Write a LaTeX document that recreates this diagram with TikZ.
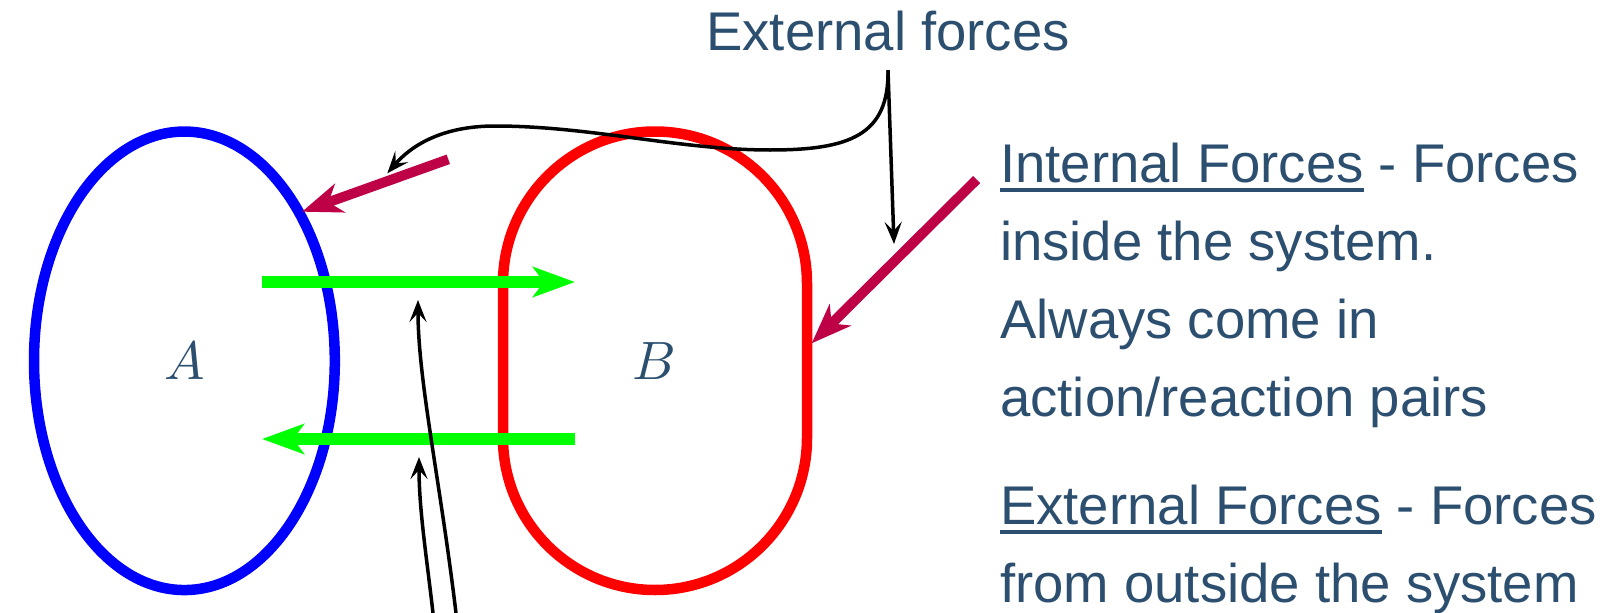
\documentclass[tikz,border=0pt]{standalone}
\usepackage{fontspec}
\usetikzlibrary{arrows.meta,shapes.geometric}
\newfontfamily\lsans{Liberation Sans}
\definecolor{txt}{RGB}{44,79,112}
\definecolor{crim}{RGB}{190,0,70}
\definecolor{lgreen}{RGB}{0,255,0}
\newcommand{\myul}[1]{\setbox0\hbox{#1}\rlap{\rule[-10pt]{\wd0}{3.6pt}}\box0\relax}
\begin{document}
\begin{tikzpicture}[x=1pt,y=-1pt,
  body/.style={font={\lsans\fontsize{54.5}{63}\selectfont}, text=txt, inner sep=0pt, anchor=base west},
  mathlbl/.style={font=\normalsize, text=txt, inner sep=0pt, scale=5.4, transform shape},
  sysline/.style={line width=10.5pt},
  internal/.style={draw=lgreen, line width=12pt, -{Stealth[length=42pt,width=30pt,inset=11pt]}},
  extforce/.style={draw=crim, line width=10pt, -{Stealth[length=40pt,width=30pt,inset=12pt]}},
  pointer/.style={draw=black, line width=3.5pt, -{Stealth[length=22pt,width=17pt,inset=9pt]}}
]
\useasboundingbox (0,0) rectangle (1610,613);

% system A
\node[ellipse, draw=blue, sysline, minimum width=300.8pt, minimum height=458.5pt, inner sep=0pt] (A) at (184.4,360.8) {};
\node[mathlbl] (Alabel) at (A.center) {$A$};

% system B
\draw[red, sysline] (503,283.5) arc[start angle=180,end angle=360,radius=152] -- (807,438) arc[start angle=0,end angle=180,radius=152] -- cycle;
\node[mathlbl] (B) at (654,360.8) {$B$};

% internal forces (green)
\coordinate (g1s) at (262,282);
\coordinate (g1e) at (575,282);
\coordinate (g2s) at (575,439);
\coordinate (g2e) at (262,439);
\draw[internal] (g1s) -- (g1e);
\draw[internal] (g2s) -- (g2e);

% external forces (crimson)
\coordinate (c1s) at (448.3,159.3);
\coordinate (c1e) at (302,211.7);
\coordinate (c2s) at (976.7,179.5);
\coordinate (c2e) at (811.7,343.3);
\draw[extforce] (c1s) -- (c1e);
\draw[extforce] (c2s) -- (c2e);

% title
\node[font={\lsans\fontsize{54.5}{63}\selectfont}, text=txt, anchor=base, inner sep=0pt] (title) at (888,50.5) {External forces};

% pointers from title
\coordinate (p1) at (387.3,173.3);
\coordinate (p2) at (894,244);
\draw[pointer] ([yshift=-19pt]title.south) .. controls (889,135) and (850,150) .. (770,150)
   .. controls (680,150) and (590,126) .. (495,126)
   .. controls (440,126) and (410,147) .. (p1);
\draw[pointer] ([yshift=-19pt]title.south) -- (p2);

% pointers from below
\coordinate (b1) at (456,613);
\coordinate (b1t) at (418,300);
\coordinate (b2) at (433,613);
\coordinate (b2t) at (419,457);
\draw[pointer] (b1) .. controls (440,480) and (418,380) .. (b1t);
\draw[pointer] (b2) .. controls (427,560) and (419,510) .. (b2t);

% explanatory text
\node[body] (l1) at (1000,182) {\myul{Internal Forces} - Forces};
\node[body] (l2) at (1000,260) {inside the system.};
\node[body] (l3) at (1000,338) {Always come in};
\node[body] (l4) at (1000,416) {action/reaction pairs};
\node[body] (l5) at (1000,524) {\myul{External Forces} - Forces};
\node[body] (l6) at (1000,602) {from outside the system};
\end{tikzpicture}
\end{document}
